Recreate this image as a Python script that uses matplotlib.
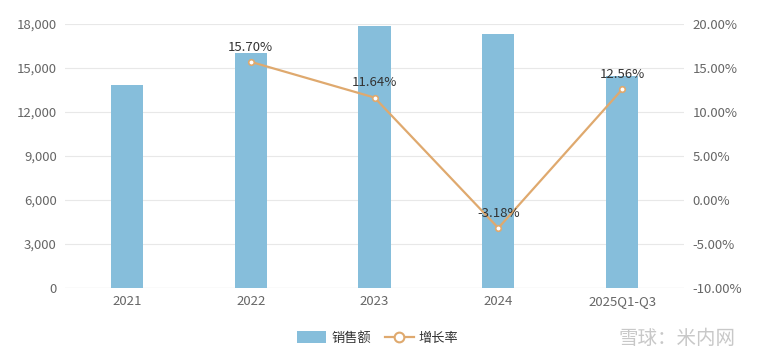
import numpy as np
import matplotlib.pyplot as plt
from matplotlib.lines import Line2D
from matplotlib.patches import Patch
from matplotlib.ticker import FuncFormatter

plt.rcParams['font.family'] = ['Noto Sans CJK SC', 'DejaVu Sans']

years = ['2021', '2022', '2023', '2024', '2025Q1-Q3']
sales = [13820, 16000, 17860, 17300, 14460]
growth_years = ['2022', '2023', '2024', '2025Q1-Q3']
growth = [15.70, 11.64, -3.18, 12.56]

bar_color = '#86bedb'
line_color = '#dfa96e'
tick_color = '#666666'

fig = plt.figure(figsize=(7.58, 3.6), dpi=100)
ax = fig.add_axes([65 / 758, 1 - 288 / 360, 619 / 758, 264 / 360])
x = np.arange(len(years))
ax.bar(x, sales, width=0.26, color=bar_color, zorder=2)
ax.set_xlim(-0.5, len(years) - 0.5)
ax.set_ylim(0, 18000)
ax.set_yticks(np.arange(0, 18001, 3000))
ax.yaxis.set_major_formatter(FuncFormatter(lambda v, p: f'{int(v):,}'))
ax.set_xticks(x)
ax.set_xticklabels(years)
ax.grid(axis='y', color='#e8e8e8', lw=0.8, zorder=0)
for s in ax.spines.values():
    s.set_visible(False)
ax.tick_params(axis='both', length=0, labelsize=9.5, colors=tick_color, pad=6)
ax.tick_params(axis='x', pad=5)
ax.axhline(0, color='#d0d0d0', lw=0.8, zorder=1)

ax2 = ax.twinx()
gx = [years.index(y) for y in growth_years]
ax2.plot(gx, growth, color=line_color, lw=1.6, marker='o', ms=4,
         mfc='white', mec=line_color, mew=1.2, zorder=3)
for xi, g in zip(gx, growth):
    ax2.annotate(f'{g:.2f}%', (xi, g), xytext=(0, 6), textcoords='offset points',
                 ha='center', va='bottom', fontsize=9.5, color='#333333')
ax2.set_ylim(-10, 20)
ax2.set_yticks(np.arange(-10, 20.1, 5))
ax2.yaxis.set_major_formatter(FuncFormatter(lambda v, p: f'{v:.2f}%'))
for s in ax2.spines.values():
    s.set_visible(False)
ax2.tick_params(axis='y', length=0, labelsize=9.5, colors=tick_color, pad=6)

handles = [Patch(facecolor=bar_color, edgecolor='none'),
           Line2D([0], [0], color=line_color, lw=1.6, marker='o', ms=7,
                  mfc='white', mec=line_color, mew=1.5)]
fig.legend(handles, ['销售额', '增长率'], loc='center', bbox_to_anchor=(378 / 758, 1 - 338 / 360),
           ncol=2, frameon=False, fontsize=9.5, handlelength=2.2, handleheight=1.0,
           columnspacing=1.0, handletextpad=0.4, labelcolor='#333333')

fig.text(735 / 758, 1 - 338 / 360, '雪球：米内网', ha='right', va='center',
         fontsize=14, color='#c8c8c8')

fig.savefig('out.png', dpi=100)
